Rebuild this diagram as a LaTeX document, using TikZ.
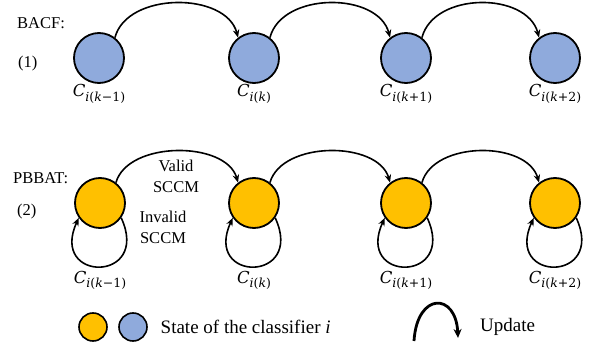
\documentclass[tikz,border=0pt]{standalone}
\usepackage{fontspec}
\setmainfont{Liberation Serif}
\newfontfamily\labfont{DejaVu Serif}
\usetikzlibrary{arrows.meta}

\definecolor{stateblue}{HTML}{8FAADC}
\definecolor{stateorange}{HTML}{FFC000}

% state label C_{i(k...)}: italic letters, upright brackets and digits
\newcommand{\clab}[2]{%
  {\labfont\fontsize{16.5}{18}\selectfont\itshape C}%
  \raisebox{-4.2pt}{\labfont\fontsize{12.5}{14}\selectfont
    \textit{i}(\textit{k}#1#2)}}

\tikzset{
  txt/.style={font=\fontsize{16.5}{19}\selectfont, inner sep=0pt},
  keytxt/.style={font=\fontsize{19}{21}\selectfont, inner sep=0pt, anchor=west},
  lab/.style={inner sep=0pt, anchor=base},
  state/.style={circle, draw=black, line width=1.8pt, minimum size=50pt, inner sep=0pt},
  bluestate/.style={state, fill=stateblue},
  orangestate/.style={state, fill=stateorange},
  smallstate/.style={circle, draw=black, line width=1.6pt, minimum size=28pt, inner sep=0pt},
  upd/.style={line width=1.6pt, -{Stealth[length=8pt,width=6.5pt]}},
  selfloop/.style={line width=1.6pt, -{Stealth[length=8pt,width=6.5pt]}},
}

\begin{document}
\begin{tikzpicture}[x=1pt,y=1pt]
\useasboundingbox (0,0) rectangle (598,349);

% ---- (1) BACF ----
\node[txt, anchor=base west] (t1) at (17,320.7) {BACF:};
\node[txt, anchor=base west] (n1) at (18,281) {(1)};

\node[bluestate] (a1) at (99,291) {};
\node[bluestate] (a2) at (254,291) {};
\node[bluestate] (a3) at (406,291) {};
\node[bluestate] (a4) at (555,291) {};

\node[lab] (la1) at (99,252) {\clab{−}{1}};
\node[lab] (la2) at (254,252) {\clab{}{}};
\node[lab] (la3) at (406,252) {\clab{+}{1}};
\node[lab] (la4) at (555,252) {\clab{+}{2}};

\draw[upd] (a1.52) .. controls +(12,46) and +(-12,46) .. (a2.128);
\draw[upd] (a2.52) .. controls +(12,46) and +(-12,46) .. (a3.128);
\draw[upd] (a3.52) .. controls +(12,46) and +(-12,46) .. (a4.128);

% ---- (2) PBBAT ----
\node[txt, anchor=base west] (t2) at (13,165.7) {PBBAT:};
\node[txt, anchor=base west] (n2) at (17,133.5) {(2)};

\node[orangestate] (b1) at (100,146) {};
\node[orangestate] (b2) at (254,146) {};
\node[orangestate] (b3) at (406,146) {};
\node[orangestate] (b4) at (555,146) {};

\node[lab] (lb1) at (100,66) {\clab{−}{1}};
\node[lab] (lb2) at (254,66) {\clab{}{}};
\node[lab] (lb3) at (406,66) {\clab{+}{1}};
\node[lab] (lb4) at (555,66) {\clab{+}{2}};

\draw[upd] (b1.52) .. controls +(12,42) and +(-12,42) .. (b2.128);
\draw[upd] (b2.52) .. controls +(12,42) and +(-12,42) .. (b3.128);
\draw[upd] (b3.52) .. controls +(12,42) and +(-12,42) .. (b4.128);

\foreach \s in {b1,b2,b3,b4}{
  \draw[selfloop] (\s.-35) .. controls +(30,-65) and +(-30,-65) .. (\s.215);
}

\node[txt, align=center] (valid) at (176,172.5) {Valid\\[2pt]SCCM};
\node[txt, align=center] (invalid) at (163,121.5) {Invalid\\[2pt]SCCM};

% ---- legend ----
\node[smallstate, fill=stateorange] (k1) at (93,22) {};
\node[smallstate, fill=stateblue] (k2) at (133,22) {};
\node[keytxt] (kt) at (160.5,22) {State of the classifier \textit{i}};

\coordinate (us) at (414,8);
\coordinate (ue) at (458,11);
\draw[line width=2.8pt, -{Stealth[length=9pt,width=8pt]}] (us) .. controls (417,57) and (456,57) .. (ue);
\node[keytxt] (ut) at (480,22) {Update};
\end{tikzpicture}
\end{document}
